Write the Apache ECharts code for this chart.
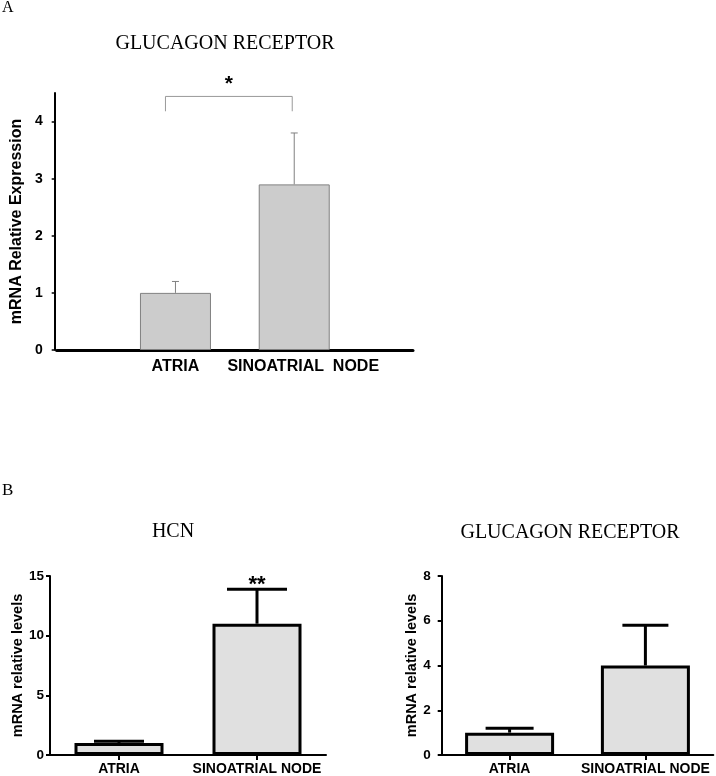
<!DOCTYPE html>
<html><head><meta charset="utf-8">
<script src="https://cdn.jsdelivr.net/npm/echarts@6/dist/echarts.min.js"></script>
<style>html,body{margin:0;padding:0;background:#fff}#c{width:716px;height:776px}</style>
</head><body><div id="c"></div>
<script>
// ---- Panel A: glucagon receptor ----
const catsA = ['ATRIA', 'SINOATRIAL  NODE'];
const valsA = [1.0, 2.9];
const errA = [0.2, 0.9];
const ticksA = [0, 1, 2, 3, 4];
const sigA = { text: '*', top: 4.44, foot: 4.18, star: 4.74 };
// ---- Panel B: HCN ----
const catsB = ['ATRIA', 'SINOATRIAL NODE'];
const valsHCN = [1.0, 11.0];
const errHCN = [0.15, 2.9];
const ticksHCN = [0, 5, 10, 15];
const sigHCN = { text: '**', index: 1, y: 14.6 };
// ---- Panel B: glucagon receptor ----
const valsGR = [1.0, 4.0];
const errGR = [0.2, 1.8];
const ticksGR = [0, 2, 4, 6, 8];

const SANS = '"Liberation Sans", Arial, sans-serif';
const SERIF = '"Liberation Serif", "Times New Roman", serif';
const capHCN = [50, 60];
const capGR = [48, 46];

function errRender(color, lw, caps) {
  return function (params, api) {
    const x = api.value(0), y = api.value(1), e = api.value(2);
    const capW = caps[params.dataIndex];
    const p0 = api.coord([x, y]);
    const p1 = api.coord([x, y + e]);
    return {
      type: 'group', children: [
        { type: 'line', shape: { x1: p0[0], y1: p0[1], x2: p1[0], y2: p1[1] }, style: { stroke: color, lineWidth: lw } },
        { type: 'line', shape: { x1: p1[0] - capW / 2, y1: p1[1], x2: p1[0] + capW / 2, y2: p1[1] }, style: { stroke: color, lineWidth: lw } }
      ]
    };
  };
}

const padA = ['', catsA[0], { value: catsA[1], textStyle: { padding: [0, 0, 0, 18] } }, ''];
const barDataA = ['-', ...valsA, '-'];
const errDataA = valsA.map((v, i) => [i + 1, v, errA[i]]);
const errDataHCN = valsHCN.map((v, i) => [i, v, errHCN[i]]);
const errDataGR = valsGR.map((v, i) => [i, v, errGR[i]]);

function yAxisB(gi, max, interval, ticks, margin) {
  return {
    type: 'value', gridIndex: gi, min: 0, max: max, interval: interval,
    name: 'mRNA relative levels', nameLocation: 'middle', nameGap: 20,
    nameTextStyle: { fontFamily: SANS, fontWeight: 'bold', fontSize: 14.5, color: '#000' },
    axisLine: { show: true, lineStyle: { color: '#000', width: 2 } },
    axisTick: { show: true, length: 4, lineStyle: { color: '#000', width: 2 }, customValues: ticks },
    axisLabel: { fontFamily: SANS, fontWeight: 'bold', fontSize: 13.5, color: '#000', margin: margin, customValues: ticks },
    splitLine: { show: false }
  };
}
function xAxisB(gi) {
  return {
    type: 'category', gridIndex: gi, data: catsB,
    axisLine: { show: true, lineStyle: { color: '#000', width: 2 } },
    axisTick: { show: true, alignWithLabel: true, length: 5, lineStyle: { color: '#000', width: 2 } },
    axisLabel: { fontFamily: SANS, fontWeight: 'bold', fontSize: 14, color: '#000', margin: 7, interval: 0 }
  };
}

const chart = echarts.init(document.getElementById('c'));
chart.setOption({
  backgroundColor: '#fff',
  animation: false,
  grid: [
    { left: 53, top: 93, width: 360, height: 257 },
    { left: 50, top: 576, width: 276, height: 180 },
    { left: 441.7, top: 576, width: 271.6, height: 180 }
  ],
  xAxis: [
    {
      type: 'category', gridIndex: 0, data: padA, boundaryGap: false,
      axisLine: { show: true, lineStyle: { color: '#000', width: 3 } },
      axisTick: { show: false },
      axisLabel: { fontFamily: SANS, fontWeight: 'bold', fontSize: 16, color: '#000', margin: 9, interval: 0 }
    },
    xAxisB(1), xAxisB(2)
  ],
  yAxis: [
    {
      type: 'value', gridIndex: 0, min: 0, max: 4.5, interval: 1, offset: 2,
      name: 'mRNA Relative Expression', nameLocation: 'middle', nameGap: 30,
      nameTextStyle: { fontFamily: SANS, fontWeight: 'bold', fontSize: 16, color: '#000' },
      axisLine: { show: true, lineStyle: { color: '#000', width: 2 } },
      axisTick: { show: true, length: 3, lineStyle: { color: '#000', width: 1.5 }, customValues: ticksA },
      axisLabel: { fontFamily: SANS, fontWeight: 'bold', fontSize: 14, color: '#000', margin: 12, customValues: ticksA },
      splitLine: { show: false }
    },
    yAxisB(1, 15, 5, ticksHCN, 6),
    yAxisB(2, 8, 2, ticksGR, 11)
  ],
  series: [
    { type: 'bar', xAxisIndex: 0, yAxisIndex: 0, data: barDataA, barWidth: 71,
      itemStyle: { color: '#cccccc', borderColor: '#808080', borderWidth: 1 } },
    { type: 'custom', xAxisIndex: 0, yAxisIndex: 0, data: errDataA, encode: { x: 0, y: 1 },
      renderItem: errRender('#808080', 1, [7, 7]), z: 3 },
    { type: 'custom', xAxisIndex: 0, yAxisIndex: 0, data: [[1, 2, sigA.top, sigA.foot, sigA.star]], z: 3,
      renderItem: function (params, api) {
        const a = api.coord([api.value(0), api.value(2)]);
        const b = api.coord([api.value(1), api.value(2)]);
        const f = api.coord([api.value(0), api.value(3)]);
        const s = api.coord([api.value(0), api.value(4)]);
        const l = a[0] - 10, r = b[0] - 2;
        return { type: 'group', children: [
          { type: 'polyline', shape: { points: [[l, f[1]], [l, a[1]], [r, a[1]], [r, f[1]]] },
            style: { stroke: '#999', lineWidth: 1, fill: null } },
          { type: 'text', x: (l + r) / 2, y: s[1] + 5,
            style: { text: sigA.text, font: 'bold 21px ' + SANS, fill: '#000', align: 'center', verticalAlign: 'middle' } }
        ] };
      } },
    { type: 'bar', xAxisIndex: 1, yAxisIndex: 1, data: valsHCN, barWidth: 89,
      itemStyle: { color: '#e0e0e0', borderColor: '#000', borderWidth: 3 } },
    { type: 'custom', xAxisIndex: 1, yAxisIndex: 1, data: errDataHCN, encode: { x: 0, y: 1 },
      renderItem: errRender('#000', 3, capHCN), z: 3 },
    { type: 'custom', xAxisIndex: 1, yAxisIndex: 1, data: [[sigHCN.index, sigHCN.y]], encode: { x: 0, y: 1 }, z: 3,
      renderItem: function (params, api) {
        const p = api.coord([api.value(0), api.value(1)]);
        return { type: 'text', x: p[0], y: p[1] + 4,
          style: { text: sigHCN.text, font: 'bold 22px ' + SANS, fill: '#000', align: 'center', verticalAlign: 'middle' } };
      } },
    { type: 'bar', xAxisIndex: 2, yAxisIndex: 2, data: valsGR, barWidth: 89,
      itemStyle: { color: '#e0e0e0', borderColor: '#000', borderWidth: 3 } },
    { type: 'custom', xAxisIndex: 2, yAxisIndex: 2, data: errDataGR, encode: { x: 0, y: 1 },
      renderItem: errRender('#000', 3, capGR), z: 3 }
  ],
  graphic: [
    { type: 'text', x: 2, y: 8, style: { text: 'A', font: '16px ' + SERIF, fill: '#000', align: 'left', verticalAlign: 'middle' } },
    { type: 'text', x: 225, y: 44, style: { text: 'GLUCAGON RECEPTOR', font: '20px ' + SERIF, fill: '#000', align: 'center', verticalAlign: 'middle' } },
    { type: 'text', x: 2, y: 491, style: { text: 'B', font: '17px ' + SERIF, fill: '#000', align: 'left', verticalAlign: 'middle' } },
    { type: 'text', x: 173, y: 532, style: { text: 'HCN', font: '20px ' + SERIF, fill: '#000', align: 'center', verticalAlign: 'middle' } },
    { type: 'text', x: 570, y: 533, style: { text: 'GLUCAGON RECEPTOR', font: '20px ' + SERIF, fill: '#000', align: 'center', verticalAlign: 'middle' } }
  ]
});
</script></body></html>
